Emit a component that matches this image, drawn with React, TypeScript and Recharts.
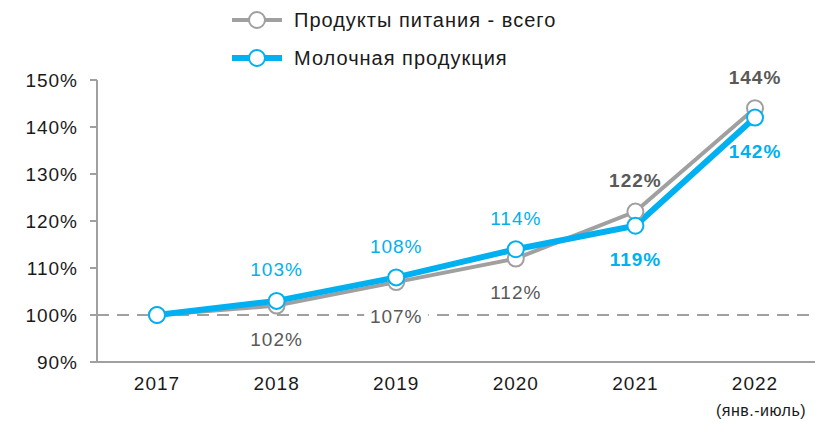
import React from "react";
import { LineChart, Line, XAxis, YAxis, ReferenceLine, LabelList } from "recharts";

const years = ["2017", "2018", "2019", "2020", "2021", "2022"];
const yearNotes = ["", "", "", "", "", "(янв.-июль)"];
const foodTotal = [100, 102, 107, 112, 122, 144];
const dairy = [100, 103, 108, 114, 119, 142];
const yTicks = [90, 100, 110, 120, 130, 140, 150];

// where each point's label sits, and which ones are bold
const foodLabelSide = ["none", "below", "below", "below", "above", "above"];
const dairyLabelSide = ["none", "above", "above", "above", "below", "below"];
const boldIdx = [4, 5];

const GRAY = "#a0a0a0";
const GRAY_TEXT = "#595959";
const BLUE = "#00b0f0";
const FONT = "'Liberation Sans', Arial, sans-serif";

const data = years.map((year, i) => ({
  year,
  food: foodTotal[i],
  dairy: dairy[i],
}));

function makeLabel(sides: string[], color: string, withBg: boolean) {
  return (props: any) => {
    const { x, y, value, index } = props;
    const side = sides[index];
    if (side === "none") return null;
    const cy = side === "above" ? y - 31 : y + 34;
    const bold = boldIdx.includes(index);
    return (
      <g>
        {withBg && side === "below" && (
          <rect x={x - 32} y={cy - 11} width={64} height={22} fill="#fff" />
        )}
        <text
          x={x}
          y={cy}
          textAnchor="middle"
          dominantBaseline="central"
          fill={color}
          fontSize={19}
          fontWeight={bold ? 700 : 400}
          fontFamily={FONT}
          letterSpacing={1}
        >
          {`${value}%`}
        </text>
      </g>
    );
  };
}

const Dot = (color: string) => (props: any) => {
  const { cx, cy, index } = props;
  return <circle key={index} cx={cx} cy={cy} r={8} fill="#fff" stroke={color} strokeWidth={2} />;
};

const XTick = (props: any) => {
  const { x, y, payload, index } = props;
  return (
    <g>
      <text
        x={x}
        y={y + 13}
        textAnchor="middle"
        dominantBaseline="central"
        fill="#1a1a1a"
        fontSize={19}
        fontFamily={FONT}
        letterSpacing={1}
      >
        {payload.value}
      </text>
      {yearNotes[index] && (
        <text
          x={x + 6}
          y={y + 40}
          textAnchor="middle"
          dominantBaseline="central"
          fill="#1a1a1a"
          fontSize={16}
          fontFamily={FONT}
          letterSpacing={0.5}
        >
          {yearNotes[index]}
        </text>
      )}
    </g>
  );
};

const legendItems = [
  { name: "Продукты питания - всего", color: GRAY, width: 4 },
  { name: "Молочная продукция", color: BLUE, width: 6 },
];

const LegendBox = () => (
  <div style={{ position: "absolute", left: 0, top: 0, width: 815, height: 80 }}>
    {legendItems.map((it, i) => (
      <div
        key={it.name}
        style={{
          position: "absolute",
          left: 232,
          top: 9 + i * 38,
          display: "flex",
          alignItems: "center",
          height: 22,
        }}
      >
        <svg width={50} height={22}>
          <line x1={0} x2={50} y1={11} y2={11} stroke={it.color} strokeWidth={it.width} />
          <circle cx={25} cy={11} r={8} fill="#fff" stroke={it.color} strokeWidth={2} />
        </svg>
        <span
          style={{
            marginLeft: 12,
            fontSize: 20,
            fontFamily: FONT,
            color: "#1a1a1a",
            letterSpacing: 1,
            whiteSpace: "nowrap",
          }}
        >
          {it.name}
        </span>
      </div>
    ))}
  </div>
);

export default function App() {
  return (
    <div style={{ position: "absolute", left: 0, top: 0, width: 815, height: 421, background: "#fff" }}>
      <LineChart
        width={815}
        height={421}
        data={data}
        margin={{ top: 80, right: 0, bottom: 9, left: 0 }}
      >
        <XAxis
          dataKey="year"
          height={50}
          stroke={GRAY}
          strokeWidth={2}
          tickLine={false}
          tick={<XTick />}
          interval={0}
          padding={{ left: 60, right: 60 }}
        />
        <YAxis
          width={97}
          domain={[90, 150]}
          ticks={yTicks}
          tickFormatter={(v) => `${v}%`}
          stroke={GRAY}
          strokeWidth={2}
          tickSize={7}
          tickMargin={12}
          tick={{ fill: "#1a1a1a", fontSize: 19, fontFamily: FONT, letterSpacing: 1 }}
          interval={0}
        />
        <ReferenceLine y={100} stroke={GRAY} strokeWidth={2} strokeDasharray="12 8" />
        <Line
          dataKey="food"
          stroke={GRAY}
          strokeWidth={4}
          dot={Dot(GRAY)}
          activeDot={false}
          isAnimationActive={false}
        >
          <LabelList dataKey="food" content={makeLabel(foodLabelSide, GRAY_TEXT, true)} />
        </Line>
        <Line
          dataKey="dairy"
          stroke={BLUE}
          strokeWidth={6}
          dot={Dot(BLUE)}
          activeDot={false}
          isAnimationActive={false}
        >
          <LabelList dataKey="dairy" content={makeLabel(dairyLabelSide, BLUE, false)} />
        </Line>
      </LineChart>
      <LegendBox />
    </div>
  );
}
